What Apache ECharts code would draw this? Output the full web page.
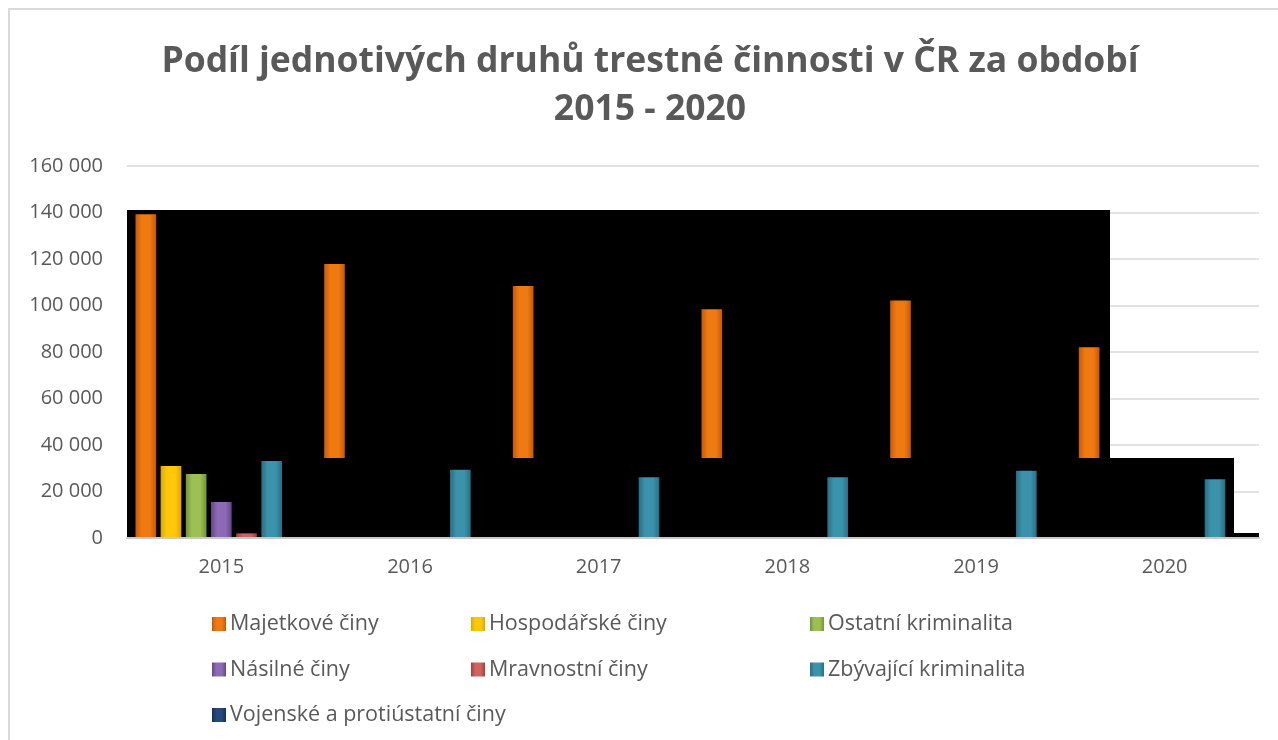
<!DOCTYPE html>
<html>
<head>
<meta charset="utf-8">
<script src="https://cdn.jsdelivr.net/npm/echarts@6/dist/echarts.min.js"></script>
<style>
  html, body { margin: 0; padding: 0; background: #fff; }
  #chart { width: 1278px; height: 740px; }
</style>
</head>
<body>
<div id="chart"></div>
<script>
const years = ["2015", "2016", "2017", "2018", "2019", "2020"];
const yTicks = [0, 20000, 40000, 60000, 80000, 100000, 120000, 140000, 160000];

// values (hidden ones estimated)
const majetkove = [139300, 117900, 108400, 98400, 102200, 82000];
const hospodarske = [31000, 26500, 23500, 21500, 23400, 22500];
const ostatni = [27500, 24000, 22000, 19500, 19000, 18000];
const nasilne = [15500, 14500, 13500, 12500, 12300, 11500];
const mravnostni = [2000, 2000, 2000, 2100, 2400, 2200];
const zbyvajici = [33100, 29400, 26100, 26100, 28900, 25300];
const vojenske = [10, 9, 8, 6, 7, 5];

const names = [
  "Majetkové činy", "Hospodářské činy", "Ostatní kriminalita",
  "Násilné činy", "Mravnostní činy", "Zbývající kriminalita",
  "Vojenské a protiústatní činy"
];
const values = [majetkove, hospodarske, ostatni, nasilne, mravnostni, zbyvajici, vojenske];
// edge / middle colours for the bevelled bars
const colors = [
  ["#c55a06", "#f07a12"],
  ["#e0a800", "#ffc90a"],
  ["#74953a", "#9cc052"],
  ["#634787", "#8c6ab5"],
  ["#a13f3c", "#cf6360"],
  ["#276f84", "#3b92ab"],
  ["#17304f", "#25497a"]
];

const grad = (c) => new echarts.graphic.LinearGradient(0, 0, 1, 0, [
  { offset: 0, color: c[0] },
  { offset: 0.3, color: c[1] },
  { offset: 0.7, color: c[1] },
  { offset: 1, color: c[0] }
]);

const series = names.map((n, i) => ({
  name: n,
  type: "bar",
  data: values[i],
  z: i === 5 ? 4 : 2,
  barGap: "22%",
  barCategoryGap: "9%",
  itemStyle: { color: grad(colors[i]) }
}));

const myChart = echarts.init(document.getElementById("chart"));
const txt = "#595959";
const font = "'Open Sans', 'Noto Sans', sans-serif";

myChart.setOption({
  animation: false,
  title: {
    text: "Podíl jednotivých druhů trestné činnosti v ČR za období\n2015 - 2020",
    left: 650,
    textAlign: "center",
    top: 38,
    padding: 0,
    textStyle: { fontFamily: font, fontSize: 35.5, fontWeight: "bold", color: txt, lineHeight: 48 }
  },
  grid: { left: 127, right: 19, top: 166, bottom: 202, containLabel: false },
  legend: [
    { data: [names[0], names[3], names[6]], left: 207 },
    { data: [names[1], names[4]], left: 466 },
    { data: [names[2], names[5]], left: 805 }
  ].map(l => Object.assign(l, {
    orient: "vertical",
    top: 608,
    itemWidth: 14,
    itemHeight: 14,
    itemGap: 23.5,
    icon: "rect",
    textStyle: { fontFamily: font, fontSize: 21.5, color: txt, lineHeight: 22, padding: [0, 0, 0, -1] }
  })),
  xAxis: {
    type: "category",
    data: years,
    z: 5,
    axisLine: { lineStyle: { color: "#c8c8c8", width: 2 } },
    axisTick: { show: false },
    axisLabel: { fontFamily: font, fontSize: 20, color: txt, margin: 19 }
  },
  yAxis: {
    type: "value",
    min: yTicks[0],
    max: yTicks[yTicks.length - 1],
    interval: yTicks[1] - yTicks[0],
    axisLine: { show: false },
    axisTick: { show: false },
    splitLine: { lineStyle: { color: "#d9d9d9", width: 1.5 } },
    axisLabel: {
      fontFamily: font, fontSize: 20, color: txt, margin: 24,
      formatter: v => String(v).replace(/\B(?=(\d{3})+(?!\d))/g, " ")
    }
  },
  graphic: [
    // outer chart border
    { type: "rect", z: 0, silent: true, shape: { x: 9, y: 9, width: 1300, height: 800 },
      style: { fill: null, stroke: "#d9d9d9", lineWidth: 2 } },
    // black blocks seen in the reference
    { type: "rect", z: 1, silent: true, shape: { x: 127, y: 210, width: 983, height: 328 }, style: { fill: "#000" } },
    { type: "rect", z: 1, silent: true, shape: { x: 1110, y: 533, width: 149, height: 5 }, style: { fill: "#000" } },
    { type: "rect", z: 3, silent: true, shape: { x: 310, y: 458, width: 924, height: 80 }, style: { fill: "#000" } }
  ],
  series: series
});
</script>
</body>
</html>
